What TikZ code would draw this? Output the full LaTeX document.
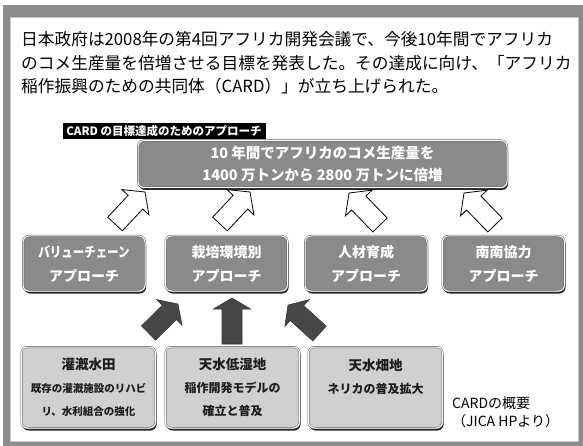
\documentclass[tikz,border=0pt]{standalone}
\usepackage{fontspec}
\setmainfont{Noto Sans CJK JP}
\usetikzlibrary{shadows}
\definecolor{framegray}{HTML}{8C8C8C}
\definecolor{boxgray}{HTML}{8A8A8A}
\definecolor{lightbox}{HTML}{D0D0D0}
\definecolor{darkarrow}{HTML}{474747}
\definecolor{boxtext}{HTML}{1E1E1E}

% block arrow: style, start, end, shaft width, head width, head length
\newcommand\blockarrow[6]{%
  \path (#2); \pgfgetlastxy{\baAx}{\baAy}%
  \path (#3); \pgfgetlastxy{\baBx}{\baBy}%
  \pgfmathsetmacro\baAng{atan2(\baBy-\baAy,\baBx-\baAx)}%
  \pgfmathsetmacro\baLen{veclen(\baBx-\baAx,\baBy-\baAy)}%
  \begin{scope}[shift={(\baAx,\baAy)}, rotate=\baAng]
    \draw[#1] (0,-#4/2) -- (\baLen-#6,-#4/2) -- (\baLen-#6,-#5/2) -- (\baLen,0)
      -- (\baLen-#6,#5/2) -- (\baLen-#6,#4/2) -- (0,#4/2) -- cycle;
  \end{scope}}

\begin{document}
\begin{tikzpicture}[x=1pt,y=-1pt,
  titleline/.style={font=\fontsize{16.7}{20}\selectfont, inner sep=0pt, anchor=west},
  box/.style={rounded corners=6pt, draw=black!65, line width=0.5pt, double=white,
    double distance=1pt, fill=boxgray, align=center, inner sep=0pt,
    drop shadow={shadow xshift=1pt, shadow yshift=-2.5pt, fill=black!85, opacity=1}},
  goalbox/.style={box, minimum width=369pt, minimum height=47pt, text=white,
    font=\bfseries\fontsize{14.5}{22}\selectfont},
  midbox/.style={box, minimum width=122pt, minimum height=55pt, text=white,
    font=\bfseries\fontsize{14}{24}\selectfont},
  lowbox/.style={box, fill=lightbox, minimum width=134pt, minimum height=81pt,
    text=boxtext, font=\bfseries\fontsize{12}{23}\selectfont},
  hollow/.style={draw=black, line width=0.8pt, fill=white, line join=miter},
  solidarrow/.style={draw=black!80, line width=0.6pt, fill=darkarrow, line join=miter}
]
\useasboundingbox (0,0) rectangle (583,446);
\fill[white] (0,0) rectangle (583,446);
\fill[framegray] (3,5) rectangle (583,446);
\filldraw[fill=white, draw=black!22, line width=0.6pt] (10,17) rectangle (578,441);

% title text
\node[titleline] (t1) at (21,39) {日本政府は2008年の第4回アフリカ開発会議で、今後10年間でアフリカ};
\node[titleline] (t2) at (21,63) {のコメ生産量を倍増させる目標を発表した。その達成に向け、「アフリカ};
\node[titleline] (t3) at (21,86) {稲作振興のための共同体（CARD）」が立ち上げられた。};

% black label
\node[fill=black, text=white, font=\bfseries\fontsize{11.5}{11.5}\selectfont,
  minimum width=203pt, minimum height=16pt, inner sep=0pt] (lab) at (164,131)
  {CARD の目標達成のためのアプローチ};

% goal box
\node[goalbox] (goal) at (322.5,164)
  {10 年間でアフリカのコメ生産量を\\1400 万トンから 2800 万トンに倍増};

% middle boxes
\node[midbox] (m1) at (84,263.5) {\scalebox{0.82}[1]{バリューチェーン}\\アプローチ};
\node[midbox] (m2) at (226.5,263.5) {栽培環境別\\アプローチ};
\node[midbox] (m3) at (366,263.5) {人材育成\\アプローチ};
\node[midbox] (m4) at (503.5,263.5) {南南協力\\アプローチ};

% bottom boxes
\node[lowbox] (b1) at (88.5,387.5)
  {{\fontsize{13.5}{13.5}\selectfont 灌漑水田}\\{\fontsize{10.5}{10.5}\selectfont 既存の灌漑施設のリハビ}\\{\fontsize{10.5}{10.5}\selectfont リ、水利組合の強化}};
\node[lowbox] (b2) at (232.5,387.5)
  {{\fontsize{13.5}{13.5}\selectfont 天水低湿地}\\稲作開発モデルの\\確立と普及};
\node[lowbox] (b3) at (375.5,387.5)
  {{\fontsize{13.5}{13.5}\selectfont 天水畑地}\\ネリカの普及拡大\\\mbox{}};

% note
\node[anchor=west, align=left, inner sep=0pt, font=\fontsize{14}{18}\selectfont] (note)
  at (452,412) {CARDの概要\\（JICA HPより）};

% hollow arrows (middle -> goal)
\coordinate (u1a) at (115,224); \coordinate (u1b) at (145,192);
\coordinate (u2a) at (220,224); \coordinate (u2b) at (250,192);
\coordinate (u3a) at (380,225); \coordinate (u3b) at (349,193);
\coordinate (u4a) at (495,225); \coordinate (u4b) at (464,193);
\blockarrow{hollow}{u1a}{u1b}{20}{37}{14}
\blockarrow{hollow}{u2a}{u2b}{20}{37}{14}
\blockarrow{hollow}{u3a}{u3b}{20}{37}{14}
\blockarrow{hollow}{u4a}{u4b}{20}{37}{14}

% dark arrows (bottom -> middle box 2)
\coordinate (d1a) at (148.5,333); \coordinate (d1b) at (178,304);
\coordinate (d2a) at (232,344);   \coordinate (d2b) at (232,298);
\coordinate (d3a) at (319.5,333.5); \coordinate (d3b) at (288,305);
\blockarrow{solidarrow}{d1a}{d1b}{20}{36}{12}
\blockarrow{solidarrow}{d2a}{d2b}{20}{37}{11}
\blockarrow{solidarrow}{d3a}{d3b}{20}{36}{12}
\end{tikzpicture}
\end{document}
